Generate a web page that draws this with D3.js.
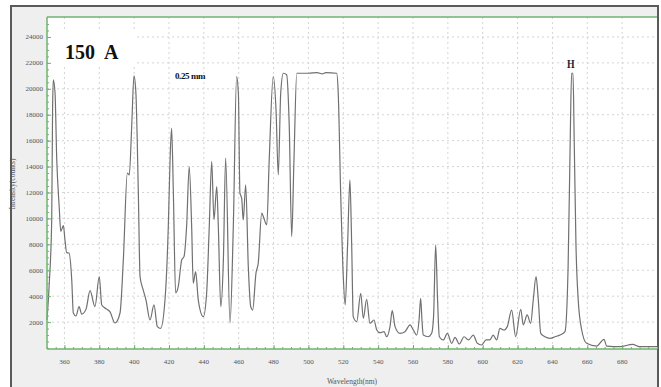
<!DOCTYPE html>
<html><head><meta charset="utf-8">
<script src="https://cdn.jsdelivr.net/npm/d3@7"></script>
<style>body{margin:0;background:#fff}svg{display:block}</style>
</head><body>
<svg id="c" width="661" height="387"></svg>
<script>
const wavelength = [350.0,351.3,352.7,353.2,353.6,354.6,355.6,357.0,357.9,359.4,360.3,361.3,362.6,364.2,365.1,366.6,368.4,369.9,372.4,374.7,377.5,380.0,381.4,384.2,386.1,389.0,391.9,393.8,396.1,397.2,398.6,399.9,401.0,402.4,403.4,405.2,406.8,409.1,411.4,413.3,415.2,417.7,419.6,420.6,421.5,422.5,423.8,425.3,427.3,428.6,430.1,431.6,433.0,433.9,435.3,436.8,439.7,441.6,443.1,444.5,445.8,447.4,448.3,449.7,451.2,452.5,455.0,456.9,458.8,459.8,460.7,461.7,462.6,464.0,465.5,466.9,468.0,469.9,471.2,473.2,474.1,476.1,477.5,479.8,481.4,482.7,484.1,485.6,487.5,489.0,490.4,491.7,493.3,500,505,508,510,516.2,517.1,518.5,520.0,521.1,522.5,523.8,524.8,525.7,527.7,530.0,531.5,533.4,535.3,537.6,539.2,541.0,543.4,544.9,546.8,548.1,549.7,552.5,555.4,558.3,560.2,562.1,563.5,564.4,565.2,565.9,568.8,570.7,571.8,573.0,574.1,575.1,577.4,579.7,582.2,584.1,586.6,589.3,591.8,594.6,596.9,599.4,601.9,604.1,606.0,608.0,609.9,612.2,614.1,616.6,618.9,621.8,623.3,625.5,627.5,629.0,630.6,631.9,633.3,635.7,638.6,641.5,644.4,647.2,649.0,650.2,651.0,651.8,652.5,653.5,654.8,656.8,659.6,665.4,669.6,671.1,678.8,686.0,690,700];
const intensity = [2160,5000,9900,18400,20700,19700,14500,10900,9000,9450,8340,7360,7330,5250,2700,2470,3190,2620,3000,4430,3190,5500,3320,3000,2800,1930,2700,6800,13500,13350,17100,21000,19700,12000,5500,4480,3700,2160,3320,1650,1520,3700,9370,14500,16960,12000,4250,4730,6800,7050,9370,14000,9370,5000,5900,3700,2420,4250,9370,14400,9900,12450,9370,3190,6800,14650,1930,9370,20950,19670,11950,11560,9880,12590,6280,3190,2930,5770,6540,10400,10140,9500,14500,20950,18380,13360,19670,21200,21080,17100,8600,14500,21200,21200,21250,21150,21250,21200,19670,11950,5500,3320,8080,12970,8080,2420,2030,4220,2290,3760,1900,2160,1390,1180,1260,870,1650,2880,1650,1130,1260,1780,1390,1000,2200,3840,2000,1000,870,1130,2420,7950,3700,870,620,1130,360,820,310,870,620,1000,360,230,620,620,1000,620,1520,1390,1650,2930,870,2990,1780,2550,1900,3700,5500,3700,1130,870,750,870,1000,1260,6280,16000,21200,21200,16000,8000,3700,1390,360,150,670,150,100,280,100,100];
const xTicks = [360,380,400,420,440,460,480,500,520,540,560,580,600,620,640,660,680];
const yTicks = [2000,4000,6000,8000,10000,12000,14000,16000,18000,20000,22000,24000];

const svg = d3.select("#c");
const L=47, R=657, T=17, B=349;
const x = d3.scaleLinear().domain([350,700]).range([L,R]);
const y = d3.scaleLinear().domain([0,25540]).range([348,T]);
const green="#6fb36f";

// frame
svg.append("rect").attr("x",11).attr("y",6).attr("width",647).attr("height",390)
  .attr("fill","#efefef").attr("stroke","#5a5a5a").attr("stroke-width",2);
svg.append("rect").attr("x",L).attr("y",T).attr("width",R-L).attr("height",B-T).attr("fill","#fff");

// grid
const g = svg.append("g");
g.selectAll(".vg").data(xTicks).join("line")
  .attr("x1",d=>x(d)).attr("x2",d=>x(d)).attr("y1",T).attr("y2",B)
  .attr("stroke","#d4d4d4").attr("stroke-dasharray","2,3");
g.selectAll(".hg").data(yTicks).join("line")
  .attr("x1",L).attr("x2",R).attr("y1",d=>y(d)).attr("y2",d=>y(d))
  .attr("stroke","#d4d4d4").attr("stroke-dasharray","2,3");

// label box
svg.append("rect").attr("x",48).attr("y",31).attr("width",89).attr("height",34).attr("fill","#fff");

// line
const line = d3.line().x((d,i)=>x(wavelength[i])).y(d=>y(d)).curve(d3.curveMonotoneX);
svg.append("path").datum(intensity).attr("d",line).attr("fill","none")
  .attr("stroke","#707070").attr("stroke-width",1.2);

// axes
const xAxisMinor = d3.axisTop(x).tickValues(d3.range(350,701,5)).tickSize(2).tickFormat("");
const xAxis = d3.axisTop(x).tickValues(xTicks).tickSize(4).tickFormat("");
const ax = svg.append("g").attr("transform",`translate(0,${B})`);
ax.call(xAxisMinor); ax.append("g").call(xAxis);
const yAxisMinor = d3.axisRight(y).tickValues(d3.range(0,25001,500)).tickSize(2).tickFormat("");
const yAxis = d3.axisRight(y).tickValues(yTicks).tickSize(4).tickFormat("");
const ay = svg.append("g").attr("transform",`translate(${L},0)`);
ay.call(yAxisMinor); ay.append("g").call(yAxis);
svg.selectAll(".domain").remove();
svg.selectAll(".tick line").attr("stroke",green);
svg.append("line").attr("x1",L).attr("x2",R).attr("y1",B).attr("y2",B).attr("stroke",green).attr("stroke-width",1.5);
svg.append("line").attr("x1",L).attr("x2",L).attr("y1",T).attr("y2",B).attr("stroke",green).attr("stroke-width",1.5);
svg.append("line").attr("x1",L).attr("x2",R).attr("y1",T).attr("y2",T).attr("stroke",green).attr("stroke-width",1.5);

// tick labels
const tf = "Liberation Serif";
svg.selectAll(".xl").data(xTicks).join("text")
  .attr("x",d=>x(d)).attr("y",364).attr("text-anchor","middle")
  .attr("font-family",tf).attr("font-size",7).attr("fill","#555").text(d=>d);
svg.selectAll(".yl").data(yTicks).join("text")
  .attr("x",43).attr("y",d=>y(d)+2.5).attr("text-anchor","end")
  .attr("font-family",tf).attr("font-size",7).attr("fill","#555").text(d=>d);

// axis titles
svg.append("text").attr("transform","translate(15,184) rotate(-90)").attr("text-anchor","middle")
  .attr("font-family",tf).attr("font-size",7.5).attr("fill","#555").text("Intensity(counts)");
svg.append("text").attr("x",352).attr("y",384).attr("text-anchor","middle")
  .attr("font-family",tf).attr("font-size",7.5).attr("fill","#555").text("Wavelength(nm)");

// annotations
svg.append("text").attr("x",65).attr("y",59).attr("font-family",tf).attr("font-weight","bold")
  .attr("font-size",20).attr("fill","#111").style("white-space","pre").text("150  A");
svg.append("text").attr("x",175).attr("y",79).attr("font-family",tf).attr("font-weight","bold")
  .attr("font-size",9).attr("letter-spacing",-0.4).attr("fill","#111").text("0.25 mm");
svg.append("text").attr("transform","translate(567,68) scale(0.75,1)").attr("font-family",tf).attr("font-weight","bold")
  .attr("font-size",13).attr("fill","#223").text("H");
</script>
</body></html>
